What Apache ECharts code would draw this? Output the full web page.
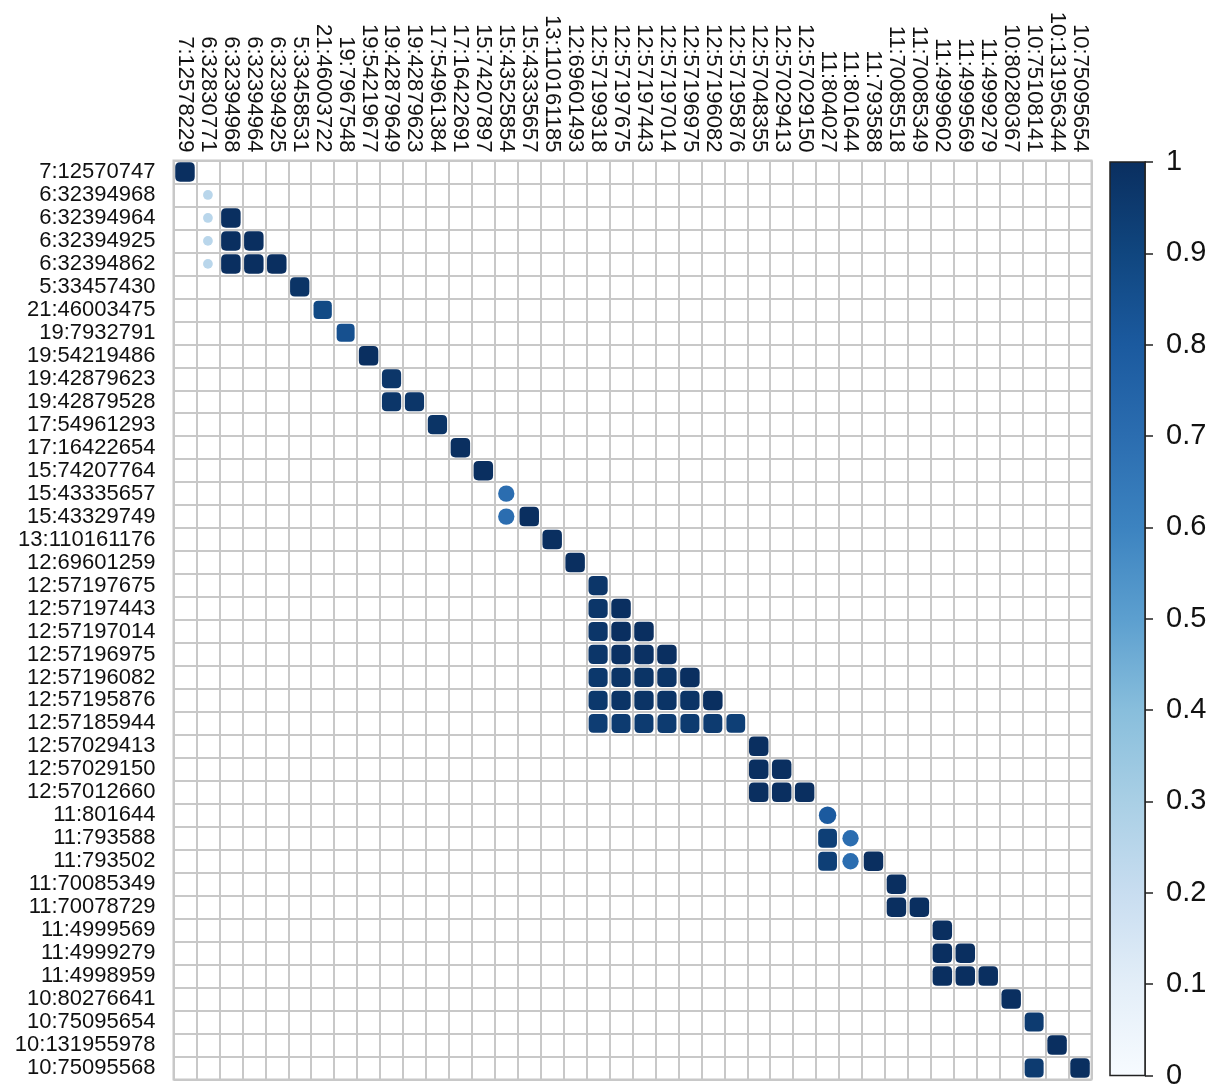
<!DOCTYPE html>
<html>
<head>
<meta charset="utf-8">
<script src="https://cdn.jsdelivr.net/npm/echarts@6/dist/echarts.min.js"></script>
<style>
html,body{margin:0;padding:0;background:#fff;}
#chart{width:1220px;height:1090px;}
</style>
</head>
<body>
<div id="chart"></div>
<script>
const colLabels = ["7:12578229","6:32830771","6:32394968","6:32394964","6:32394925","5:33458531","21:46003722","19:7967548","19:54219677","19:42879649","19:42879623","17:54961384","17:16422691","15:74207897","15:43525854","15:43335657","13:110161185","12:69601493","12:57199318","12:57197675","12:57197443","12:57197014","12:57196975","12:57196082","12:57195876","12:57048355","12:57029413","12:57029150","11:804027","11:801644","11:793588","11:70085518","11:70085349","11:4999602","11:4999569","11:4999279","10:80280367","10:75108141","10:131956344","10:75095654"];
const rowLabels = ["7:12570747","6:32394968","6:32394964","6:32394925","6:32394862","5:33457430","21:46003475","19:7932791","19:54219486","19:42879623","19:42879528","17:54961293","17:16422654","15:74207764","15:43335657","15:43329749","13:110161176","12:69601259","12:57197675","12:57197443","12:57197014","12:57196975","12:57196082","12:57195876","12:57185944","12:57029413","12:57029150","12:57012660","11:801644","11:793588","11:793502","11:70085349","11:70078729","11:4999569","11:4999279","11:4998959","10:80276641","10:75095654","10:131955978","10:75095568"];
// [row, col, value]
const cells = [
[0,0,1.0],
[1,1,0.25],
[2,1,0.25],[2,2,1.0],
[3,1,0.25],[3,2,1.0],[3,3,1.0],
[4,1,0.25],[4,2,1.0],[4,3,1.0],[4,4,1.0],
[5,5,0.98],
[6,6,0.88],
[7,7,0.85],
[8,8,1.0],
[9,9,0.97],
[10,9,0.97],[10,10,0.97],
[11,11,0.98],
[12,12,1.0],
[13,13,1.0],
[14,14,0.7],
[15,14,0.7],[15,15,1.0],
[16,16,1.0],
[17,17,1.0],
[18,18,0.97],
[19,18,0.97],[19,19,1.0],
[20,18,0.97],[20,19,1.0],[20,20,1.0],
[21,18,0.97],[21,19,0.99],[21,20,0.99],[21,21,1.0],
[22,18,0.96],[22,19,0.98],[22,20,0.98],[22,21,0.98],[22,22,1.0],
[23,18,0.96],[23,19,0.98],[23,20,0.98],[23,21,0.98],[23,22,0.98],[23,23,1.0],
[24,18,0.94],[24,19,0.95],[24,20,0.95],[24,21,0.95],[24,22,0.95],[24,23,0.95],[24,24,0.93],
[25,25,1.0],
[26,25,1.0],[26,26,1.0],
[27,25,1.0],[27,26,1.0],[27,27,1.0],
[28,28,0.8],
[29,28,0.93],[29,29,0.7],
[30,28,0.93],[30,29,0.7],[30,30,1.0],
[31,31,1.0],
[32,31,1.0],[32,32,1.0],
[33,33,1.0],
[34,33,1.0],[34,34,1.0],
[35,33,1.0],[35,34,1.0],[35,35,1.0],
[36,36,1.0],
[37,37,0.95],
[38,38,1.0],
[39,37,0.95],[39,39,1.0]
];
const barTicks = [0,0.1,0.2,0.3,0.4,0.5,0.6,0.7,0.8,0.9,1];
const palette = ["#F7FBFF","#E3EEF8","#C8DDF0","#A9CFE5","#88BEDC","#5C9FCF","#3C83C0","#2B6DB0","#1B5A9F","#10467F","#0A2F60"];

const FONT = "Liberation Sans, Arial, Helvetica, sans-serif";
const roundSq = 'path://M5,0 L15,0 Q20,0 20,5 L20,15 Q20,20 15,20 L5,20 Q0,20 0,15 L0,5 Q0,0 5,0 Z';

const chart = echarts.init(document.getElementById('chart'), null, {renderer:'canvas'});
const data = cells.map(c => ({
  value: [c[1], c[0], c[2]],
  symbol: c[2] >= 0.85 ? roundSq : 'circle'
}));

const option = {
  backgroundColor: '#ffffff',
  animation: false,
  grid: [
    {left: 173.5, top: 160.5, width: 918, height: 919, show: true, borderColor: '#c8c8c8', borderWidth: 2, backgroundColor: 'transparent'},
    {left: 1110, top: 162, width: 35, height: 918, show: true, borderColor: '#222', borderWidth: 1.5, backgroundColor: 'transparent', z: 5}
  ],
  xAxis: [
    {type: 'category', gridIndex: 0, data: colLabels, position: 'top',
     axisLine: {show: false}, axisTick: {show: false},
     axisLabel: {rotate: 90, interval: 0, margin: 8, fontSize: 22, fontFamily: FONT, color: '#111'},
     splitLine: {show: true, interval: 0, lineStyle: {color: '#c8c8c8', width: 2}}},
    {type: 'category', gridIndex: 1, data: ['c'], show: false}
  ],
  yAxis: [
    {type: 'category', gridIndex: 0, data: rowLabels, inverse: true,
     axisLine: {show: false}, axisTick: {show: false},
     axisLabel: {interval: 0, margin: 18, fontSize: 22, fontFamily: FONT, color: '#111'},
     splitLine: {show: true, interval: 0, lineStyle: {color: '#c8c8c8', width: 2}}},
    {type: 'value', gridIndex: 1, min: 0, max: 1, interval: 0.1, position: 'right',
     axisLine: {show: true, lineStyle: {color: '#222', width: 1.5}},
     axisTick: {show: true, length: 8, lineStyle: {color: '#222', width: 1.5}},
     splitLine: {show: false},
     axisLabel: {margin: 21, fontSize: 29, fontFamily: FONT, color: '#111',
       formatter: v => barTicks.includes(Math.round(v*10)/10) ? String(Math.round(v*10)/10) : ''}}
  ],
  visualMap: {
    show: false, type: 'continuous', min: 0, max: 1, dimension: 2, seriesIndex: 0,
    inRange: {color: palette}
  },
  series: [
    {type: 'scatter', xAxisIndex: 0, yAxisIndex: 0, data: data,
     itemStyle: {opacity: 1, borderWidth: 0},
     emphasis: {disabled: true},
     symbolSize: v => Math.sqrt(v[2]) * 19.5, z: 3},
    {type: 'bar', xAxisIndex: 1, yAxisIndex: 1, data: [1], barWidth: '100%', silent: true,
     itemStyle: {color: {type: 'linear', x: 0, y: 1, x2: 0, y2: 0,
       colorStops: palette.map((c, i) => ({offset: i / (palette.length - 1), color: c}))}}}
  ]
};
chart.setOption(option);
</script>
</body>
</html>
